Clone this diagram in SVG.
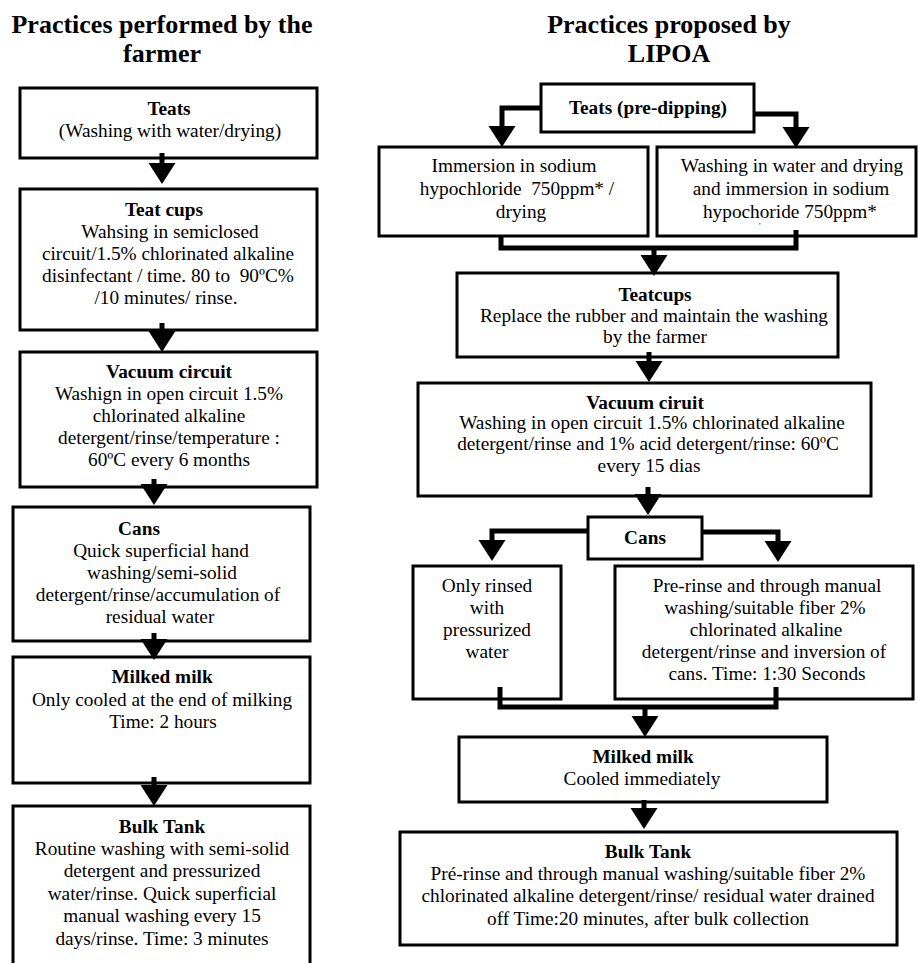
<svg xmlns="http://www.w3.org/2000/svg" width="918" height="963" viewBox="0 0 918 963">
<style>
text { font-family: "Liberation Serif", "Times New Roman", serif; fill: #000; }
.t { font-size: 26px; font-weight: bold; text-anchor: middle; }
.h { font-size: 19.3px; font-weight: bold; text-anchor: middle; }
.b { font-size: 19.3px; text-anchor: middle; }
.box { fill: #fff; stroke: #000; stroke-width: 3; }
.c { fill: none; stroke: #000; stroke-width: 5; stroke-linejoin: miter; }
</style>
<defs>
<marker id="ah" markerUnits="userSpaceOnUse" markerWidth="22" markerHeight="28" viewBox="0 -14 22 28" refX="15" refY="0" orient="auto"><path d="M0,-13.5 L21,0 L0,13.5 Z" fill="#000"/></marker>
</defs>
<rect width="918" height="963" fill="#fff"/>

<g id="titles">
<text class="t" x="162" y="33">Practices performed by the</text>
<text class="t" x="162" y="62">farmer</text>
<text class="t" x="669" y="33">Practices proposed by</text>
<text class="t" x="669" y="62">LIPOA</text>
</g>

<!-- Left column -->
<g id="l-teats">
<rect class="box" x="20" y="88" width="297" height="70"/>
<text class="h" x="169" y="115">Teats</text>
<text class="b" x="170" y="137">(Washing with water/drying)</text>
</g>
<g id="l-teatcups">
<rect class="box" x="20" y="189" width="297" height="141"/>
<text class="h" x="164" y="216">Teat cups</text>
<text class="b" x="170" y="238">Wahsing in semiclosed</text>
<text class="b" x="168" y="260">circuit/1.5% chlorinated alkaline</text>
<text class="b" x="168" y="282">disinfectant / time. 80 to&#160; 90ºC%</text>
<text class="b" x="166" y="304">/10 minutes/ rinse.</text>
</g>
<g id="l-vacuum">
<rect class="box" x="20" y="352" width="297" height="135"/>
<text class="h" x="169" y="378">Vacuum circuit</text>
<text class="b" x="169" y="400">Washign in open circuit 1.5%</text>
<text class="b" x="169" y="422">chlorinated alkaline</text>
<text class="b" x="169" y="444">detergent/rinse/temperature :</text>
<text class="b" x="169" y="466">60ºC every 6 months</text>
</g>
<g id="l-cans">
<rect class="box" x="13" y="507" width="297" height="134"/>
<text class="h" x="139" y="535">Cans</text>
<text class="b" x="161" y="557">Quick superficial hand</text>
<text class="b" x="162" y="579">washing/semi-solid</text>
<text class="b" x="158" y="601">detergent/rinse/accumulation of</text>
<text class="b" x="160" y="623">residual water</text>
</g>
<g id="l-milked">
<rect class="box" x="13" y="657" width="297" height="126"/>
<text class="h" x="162" y="683">Milked milk</text>
<text class="b" x="162" y="706">Only cooled at the end of milking</text>
<text class="b" x="163" y="728">Time: 2 hours</text>
</g>
<g id="l-bulk">
<rect class="box" x="13" y="806" width="297" height="175"/>
<text class="h" x="162" y="833">Bulk Tank</text>
<text class="b" x="162" y="855">Routine washing with semi-solid</text>
<text class="b" x="162" y="877">detergent and pressurized</text>
<text class="b" x="162" y="900">water/rinse. Quick superficial</text>
<text class="b" x="162" y="922">manual washing every 15</text>
<text class="b" x="162" y="945">days/rinse. Time: 3 minutes</text>
</g>

<!-- Right column -->
<g id="r-teats">
<rect class="box" x="541" y="84" width="213" height="48"/>
<text class="h" x="648" y="114">Teats (pre-dipping)</text>
</g>
<g id="r-immersion">
<rect class="box" x="379" y="147" width="269" height="89"/>
<text class="b" x="514" y="172">Immersion in sodium</text>
<text class="b" x="517" y="195">hypochloride&#160; 750ppm* /</text>
<text class="b" x="521" y="218">drying</text>
</g>
<g id="r-washing">
<rect class="box" x="657" y="147" width="259" height="89"/>
<text class="b" x="792" y="172">Washing in water and drying</text>
<text class="b" x="791" y="195">and immersion in sodium</text>
<text class="b" x="790" y="218">hypochoride 750ppm*</text>
<text x="759" y="229" style="font-size:9px">'</text>
</g>
<g id="r-teatcups">
<rect class="box" x="457" y="273" width="381" height="84"/>
<text class="h" x="655" y="301">Teatcups</text>
<text class="b" x="654" y="322">Replace the rubber and maintain the washing</text>
<text class="b" x="655" y="343">by the farmer</text>
</g>
<g id="r-vacuum">
<rect class="box" x="418" y="383" width="453" height="113"/>
<text class="h" x="645" y="409">Vacuum ciruit</text>
<text class="b" x="652" y="429">Washing in open circuit 1.5% chlorinated alkaline</text>
<text class="b" x="648" y="450">detergent/rinse and 1% acid detergent/rinse: 60ºC</text>
<text class="b" x="649" y="472">every 15 dias</text>
</g>
<g id="r-cans">
<rect class="box" x="588" y="517" width="114" height="42"/>
<text class="h" x="645" y="544">Cans</text>
</g>
<g id="r-rinsed">
<rect class="box" x="413" y="566" width="148" height="133"/>
<text class="b" x="487" y="592">Only rinsed</text>
<text class="b" x="487" y="614">with</text>
<text class="b" x="487" y="636">pressurized</text>
<text class="b" x="487" y="658">water</text>
</g>
<g id="r-prerinse">
<rect class="box" x="615" y="566" width="298" height="133"/>
<text class="b" x="767" y="592">Pre-rinse and through manual</text>
<text class="b" x="765" y="614">washing/suitable fiber 2%</text>
<text class="b" x="766" y="636">chlorinated alkaline</text>
<text class="b" x="764" y="658">detergent/rinse and inversion of</text>
<text class="b" x="767" y="680">cans. Time: 1:30 Seconds</text>
</g>
<g id="r-milked">
<rect class="box" x="459" y="737" width="368" height="65"/>
<text class="h" x="643" y="763">Milked milk</text>
<text class="b" x="642" y="785">Cooled immediately</text>
</g>
<g id="r-bulk">
<rect class="box" x="400" y="832" width="497" height="113"/>
<text class="h" x="648" y="858">Bulk Tank</text>
<text class="b" x="648" y="880">Pré-rinse and through manual washing/suitable fiber 2%</text>
<text class="b" x="648" y="902">chlorinated alkaline detergent/rinse/ residual water drained</text>
<text class="b" x="648" y="925">off Time:20 minutes, after bulk collection</text>
</g>

<g id="connectors">
<path class="c" d="M162,153 V178" marker-end="url(#ah)"/>
<path class="c" d="M162,323 V346" marker-end="url(#ah)"/>
<path class="c" d="M154,479 V499" marker-end="url(#ah)"/>
<path class="c" d="M154,633 V654" marker-end="url(#ah)"/>
<path class="c" d="M154,777 V800" marker-end="url(#ah)"/>

<path class="c" d="M541,108 H502 V141" marker-end="url(#ah)"/>
<path class="c" d="M754,114 H796 V142" marker-end="url(#ah)"/>
<path class="c" d="M501,236 V248 H796 V230"/>
<path class="c" d="M654,248 V270" marker-end="url(#ah)"/>
<path class="c" d="M649,352 V376" marker-end="url(#ah)"/>
<path class="c" d="M648,487 V509" marker-end="url(#ah)"/>
<path class="c" d="M588,531 H492 V555" marker-end="url(#ah)"/>
<path class="c" d="M702,532 H778 V556" marker-end="url(#ah)"/>
<path class="c" d="M500,687 V707 H776 V687"/>
<path class="c" d="M645,707 V731" marker-end="url(#ah)"/>
<path class="c" d="M644,800 V823" marker-end="url(#ah)"/>
</g>
</svg>
